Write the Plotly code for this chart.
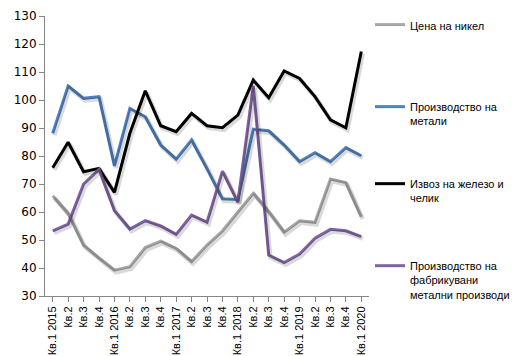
import plotly.graph_objects as go

# Quarterly indices, Q1 2015 - Q1 2020
quarters = [
    "Кв.1 2015", "Кв.2", "Кв.3", "Кв.4",
    "Кв.1 2016", "Кв.2", "Кв.3", "Кв.4",
    "Кв.1 2017", "Кв.2", "Кв.3", "Кв.4",
    "Кв.1 2018", "Кв.2", "Кв.3", "Кв.4",
    "Кв.1 2019", "Кв.2", "Кв.3", "Кв.4",
    "Кв.1 2020",
]

nickel_price = [65.8, 59.5, 48.2, 43.5, 39.2, 40.5, 47.3, 49.6, 47.0, 42.3,
                48.2, 53.2, 60.0, 66.7, 60.1, 52.8, 56.9, 56.3, 71.8, 70.5, 58.3]
metals_prod = [88.1, 105.0, 100.6, 101.2, 76.5, 97.0, 94.0, 83.9, 78.9, 85.7,
               75.5, 64.7, 64.5, 89.6, 89.0, 83.9, 78.0, 81.2, 78.0, 83.0, 80.1]
iron_steel_export = [75.8, 84.9, 74.4, 75.6, 67.0, 88.1, 103.3, 90.8, 88.7, 95.2,
                     90.8, 90.1, 94.6, 107.1, 100.8, 110.4, 107.7, 101.2, 92.9, 90.1, 117.3]
fabricated_prod = [53.3, 55.7, 70.0, 75.2, 60.5, 53.9, 56.9, 55.0, 52.0, 58.9,
                   56.4, 74.6, 63.5, 105.0, 44.6, 41.9, 45.0, 50.6, 53.8, 53.3, 51.2]

series = [
    ("Цена на никел", nickel_price, "#A6A6A6"),
    ("Производство на<br>метали", metals_prod, "#4F81BD"),
    ("Извоз на железо и<br>челик", iron_steel_export, "#000000"),
    ("Производство на<br>фабрикувани<br>метални производи", fabricated_prod, "#8064A2"),
]

# one legend box per series, stacked down the right-hand side
legend_ids = ["legend", "legend2", "legend3", "legend4"]
legend_tops = [1.018, 0.725, 0.450, 0.157]

x_idx = list(range(len(quarters)))
Y_MIN, Y_MAX = 30, 130
# Drop-shadow offset expressed in axis units (~1.5 px right, ~2 px down)
SH_DX = 0.10
SH_DY = 0.75

fig = go.Figure()

# soft shadows on an overlaid, slightly shifted axis pair
for name, vals, color in series:
    fig.add_trace(go.Scatter(
        x=x_idx, y=vals, mode="lines", xaxis="x2", yaxis="y2",
        line=dict(color="rgba(0,0,0,0.15)", width=4.5),
        showlegend=False, hoverinfo="skip",
    ))

for (name, vals, color), lid in zip(series, legend_ids):
    fig.add_trace(go.Scatter(
        x=x_idx, y=vals, mode="lines", name=name,
        legend=lid,
        line=dict(color=color, width=3),
    ))

axis_color = "#868686"
legend_style = dict(
    x=1.003, xanchor="left", yanchor="top", valign="top",
    font=dict(family="Liberation Sans", size=11),
    bgcolor="rgba(0,0,0,0)",
)

fig.update_layout(
    width=515, height=356,
    margin=dict(l=45, r=146, t=16, b=60, autoexpand=False),
    paper_bgcolor="white", plot_bgcolor="white",
    font=dict(family="DejaVu Sans", size=11, color="#000000"),
    xaxis=dict(
        range=[-0.5, len(quarters) - 0.5],
        tickmode="array", tickvals=x_idx, ticktext=quarters,
        tickangle=-90, tickson="boundaries",
        ticks="outside", ticklen=5, tickcolor=axis_color,
        showline=True, linecolor=axis_color, linewidth=1,
        showgrid=False, zeroline=False,
        tickfont=dict(family="Liberation Sans", size=11),
    ),
    yaxis=dict(
        range=[Y_MIN, Y_MAX], dtick=10,
        ticks="outside", ticklen=5, tickcolor=axis_color,
        showline=True, linecolor=axis_color, linewidth=1,
        showgrid=False, zeroline=False,
        tickfont=dict(size=12),
    ),
    xaxis2=dict(
        overlaying="x", range=[-0.5 - SH_DX, len(quarters) - 0.5 - SH_DX],
        visible=False,
    ),
    yaxis2=dict(
        overlaying="y", range=[Y_MIN + SH_DY, Y_MAX + SH_DY],
        visible=False,
    ),
)
for lid, top in zip(legend_ids, legend_tops):
    fig.update_layout({lid: dict(legend_style, y=top)})

fig.write_html("out.html")
